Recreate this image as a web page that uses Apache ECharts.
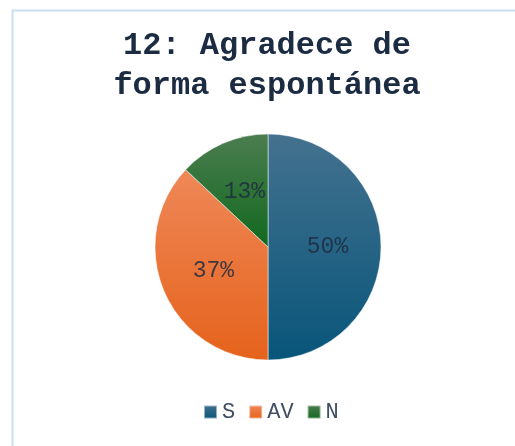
<!DOCTYPE html>
<html><head><meta charset="utf-8">
<script src="https://cdn.jsdelivr.net/npm/echarts@6/dist/echarts.min.js"></script>
<style>html,body{margin:0;padding:0;background:#fff}#c{width:515px;height:446px}</style>
</head><body><div id="c"></div>
<script>
var categories = ['S', 'AV', 'N'];
var values = [50, 37, 13];
var titleText = '12: Agradece de\nforma espontánea';
var colorsTop = ['#44728f', '#ef8858', '#4c7d50'];
var colorsBottom = ['#08557a', '#e5621b', '#11691e'];

function grad(i) {
  return new echarts.graphic.LinearGradient(0, 0, 0, 1, [
    {offset: 0, color: colorsTop[i]}, {offset: 1, color: colorsBottom[i]}
  ]);
}
var chart = echarts.init(document.getElementById('c'));
chart.setOption({
  animation: false,
  graphic: [{
    type: 'rect', left: 10, top: 8, shape: {width: 520, height: 450},
    style: {fill: 'none', stroke: '#c9def2', lineWidth: 2}
  }],
  title: {
    text: titleText, left: 262, top: 21, textAlign: 'center',
    textStyle: {fontFamily: 'Liberation Mono', fontWeight: 'bold', fontSize: 32, lineHeight: 40, color: '#1b2b42'}
  },
  legend: {
    bottom: 18, left: 198, icon: 'rect', itemWidth: 13, itemHeight: 13, itemGap: 13,
    textStyle: {fontFamily: 'Liberation Mono', fontSize: 22, color: '#3f4e63'},
    data: categories.map(function (c, i) { return {name: c, itemStyle: {color: grad(i)}}; })
  },
  series: [{
    type: 'pie', center: [268, 247], radius: 113, startAngle: 90, clockwise: true,
    label: {
      position: 'inside', formatter: '{c}%', fontFamily: 'Liberation Mono', fontSize: 23,
      color: 'rgba(30,45,65,0.85)'
    },
    labelLine: {show: false},
    itemStyle: {borderColor: 'rgba(255,255,255,0.5)', borderWidth: 1},
    emphasis: {disabled: true},
    data: categories.map(function (c, i) { return {name: c, value: values[i], itemStyle: {color: grad(i)}}; })
  }]
});
</script></body></html>
